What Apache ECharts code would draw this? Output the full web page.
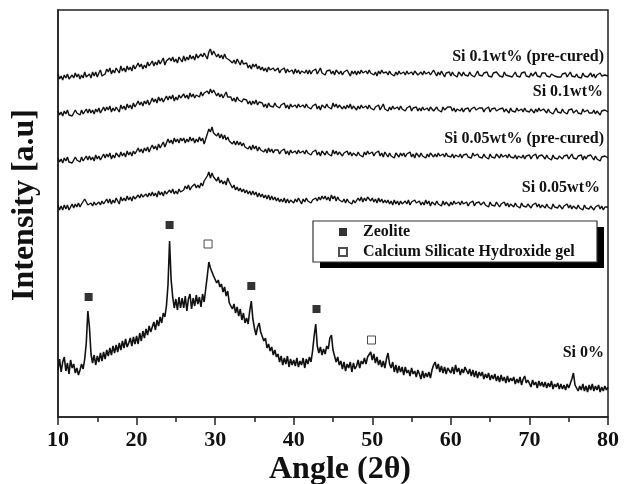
<!DOCTYPE html>
<html><head><meta charset="utf-8">
<script src="https://cdn.jsdelivr.net/npm/echarts@6/dist/echarts.min.js"></script>
<style>html,body{margin:0;padding:0;background:#fff}#c{width:631px;height:484px}</style>
</head><body><div id="c"></div><script>
// XRD patterns, sampled every 0.2 deg from 10 to 80 deg (2-theta); intensity in arbitrary units (stacked offsets)
const ANGLE_START = 10, ANGLE_STEP = 0.2;
const xTicks = [10, 20, 30, 40, 50, 60, 70, 80];
const seriesNames = ['Si 0.1wt% (pre-cured)', 'Si 0.1wt%', 'Si 0.05wt% (pre-cured)', 'Si 0.05wt%', 'Si 0%'];

const si01pre = [
343,338,341,337,342,339,343,338,340,342,
339,344,340,343,338,342,339,345,340,338,
343,339,345,341,345,340,344,347,341,343,
343,348,345,349,343,347,344,349,347,344,
351,346,349,345,351,347,350,346,352,348,
349,354,350,353,348,352,349,355,351,349,
356,351,355,352,357,353,356,359,352,356,
354,359,356,360,355,358,354,360,358,355,
361,356,360,357,362,358,361,357,363,359,
359,363,360,364,361,358,365,368,362,366,
364,360,363,359,362,358,363,359,361,357,
358,354,357,353,358,355,352,357,353,355,
354,349,352,348,353,350,353,348,351,347,
350,346,349,345,350,347,345,349,346,348,
349,344,347,345,349,344,348,345,343,347,
343,348,344,347,343,346,348,344,347,343,
347,343,346,344,348,343,346,349,344,346,
342,346,344,347,343,346,342,347,345,343,
346,342,345,343,347,344,341,346,343,346,
342,346,343,347,344,342,346,343,347,344,
346,342,345,341,346,343,347,344,342,345,
342,346,343,345,341,345,342,346,343,341,
345,342,346,343,341,345,342,346,344,342,
341,345,342,346,343,341,345,342,344,347,
344,341,345,342,346,343,340,344,342,345,
341,345,342,344,340,345,343,341,345,342,
344,341,345,342,344,340,343,346,342,344,
341,344,342,345,341,343,340,344,342,345,
344,341,343,340,345,342,344,341,343,340,
342,345,341,343,340,344,342,345,341,343,
340,344,341,343,345,341,343,340,344,342,
344,341,343,340,343,345,341,343,340,342,
340,343,341,344,340,342,345,341,343,340,
343,340,342,339,344,341,343,340,342,344,
340,343,339,342,340,344,341,339,342,340,
341];

const si01 = [
306,302,305,301,306,303,307,302,304,301,
303,307,304,306,302,307,303,305,308,304,
308,304,307,303,308,305,309,304,307,310,
306,310,307,311,305,309,306,310,308,305,
312,308,311,307,313,309,312,308,314,310,
311,316,312,315,311,316,313,317,312,315,
319,315,318,314,320,316,319,315,318,321,
317,321,318,322,316,320,317,322,319,321,
323,319,322,318,324,320,323,319,322,324,
320,325,321,324,322,326,323,328,324,327,
325,321,324,320,323,319,322,325,320,322,
320,316,319,315,320,317,319,315,318,316,
317,313,316,312,316,313,317,312,315,313,
314,310,313,309,314,311,313,310,314,311,
313,309,312,310,314,309,312,308,313,310,
308,312,309,313,310,308,312,309,313,310,
312,308,311,309,313,308,311,307,312,310,
309,313,310,312,308,314,310,313,309,312,
312,308,311,308,312,309,313,308,311,309,
307,311,308,312,309,307,311,308,312,309,
311,307,310,308,312,307,310,313,308,310,
306,310,307,311,308,306,310,307,311,308,
310,306,309,307,311,306,309,307,310,306,
309,306,310,307,305,309,306,310,308,306,
306,310,307,309,305,310,307,306,310,308,
310,306,309,305,308,310,306,309,305,308,
306,309,305,308,306,310,307,305,309,307,
309,305,308,306,310,305,308,306,309,306,
305,308,306,309,305,308,306,304,309,306,
308,305,309,306,304,308,305,309,306,308,
305,308,306,304,308,305,309,306,304,308,
307,304,308,305,307,303,306,309,305,307,
304,308,305,307,303,307,305,308,304,306,
307,304,306,303,308,305,303,307,304,306,
304,307,303,306,305,302,306,304,307,305,
305];

const si005pre = [
259,255,258,254,259,256,260,255,257,254,
256,260,257,259,255,260,256,258,261,257,
261,257,260,256,262,258,261,257,260,263,
259,263,260,264,258,262,259,264,262,260,
265,261,264,260,266,262,265,261,266,263,
264,269,265,268,264,269,266,270,265,269,
272,268,271,267,273,269,272,275,270,274,
278,274,277,273,279,275,278,274,279,276,
279,274,278,275,280,276,279,274,278,275,
280,276,279,273,278,283,288,285,290,284,
286,281,284,279,283,278,282,277,280,276,
277,273,276,272,276,272,275,271,274,270,
272,268,271,267,272,268,271,266,270,267,
269,265,268,264,269,265,268,264,267,265,
267,263,266,264,268,263,266,262,267,264,
262,266,263,267,264,262,266,263,267,264,
266,262,265,263,267,262,265,261,266,264,
262,266,263,265,261,267,263,266,262,265,
265,261,264,262,266,262,265,261,264,262,
261,265,262,264,260,265,262,266,263,261,
265,261,264,262,266,261,264,260,265,263,
260,264,261,263,259,264,262,260,264,261,
264,260,263,261,265,260,263,259,264,262,
260,264,261,263,259,263,260,264,262,260,
263,260,264,261,259,263,260,264,261,263,
260,263,259,262,264,260,263,259,262,260,
263,260,262,259,264,261,259,263,260,262,
259,263,260,262,258,263,260,262,259,263,
262,259,263,260,258,262,259,263,260,262,
259,262,258,261,263,259,262,258,261,259,
262,258,261,259,263,258,261,259,262,260,
258,262,259,261,257,262,259,261,258,261,
262,258,261,259,262,258,260,263,259,261,
258,261,259,262,257,261,258,261,259,262,
260,257,261,258,260,256,260,258,261,259,
259];

const si005 = [
212,207,211,207,212,208,212,207,210,213,
209,213,210,214,210,213,212,218,216,212,
210,214,211,215,212,210,215,212,216,213,
213,218,214,218,213,217,214,219,216,213,
220,216,219,216,221,217,220,216,221,218,
218,222,219,223,220,218,223,220,224,221,
225,221,224,220,226,222,225,221,226,223,
223,227,224,228,223,226,223,228,225,227,
227,231,228,232,227,230,228,233,229,232,
229,234,231,236,234,241,245,239,244,240,
242,236,240,234,237,233,236,232,239,235,
234,229,232,227,230,226,229,225,228,224,
227,223,226,222,226,222,225,220,224,220,
223,219,222,218,222,217,221,217,220,216,
219,215,218,215,219,214,218,214,217,215,
214,218,215,219,216,213,218,215,219,216,
218,214,217,215,219,216,220,217,221,218,
221,217,220,216,222,218,221,216,220,217,
219,215,218,214,218,215,217,213,217,214,
215,219,216,220,215,219,216,220,218,216,
219,215,218,214,219,215,218,214,217,214,
217,213,216,212,217,213,216,212,216,213,
212,216,213,217,212,215,213,217,214,212,
216,212,215,212,217,213,216,211,215,213,
212,216,213,215,211,216,212,215,213,211,
215,212,216,213,211,215,212,216,213,211,
215,211,214,212,216,211,214,212,215,212,
211,215,212,214,210,215,212,214,211,215,
214,210,213,211,215,211,214,210,213,211,
210,214,211,213,209,214,211,213,210,213,
213,209,212,210,214,210,213,209,212,210,
209,213,210,212,208,213,210,212,209,212,
212,208,211,209,213,209,212,208,211,210,
208,212,209,211,207,212,209,211,208,211,
211,207,210,208,212,208,211,207,210,209,
210];

const si0 = [
47,58,45,55,60,46,54,43,57,49,
53,44,49,42,47,53,48,58,74,106,
90,63,54,62,52,61,55,64,56,65,
58,67,61,69,62,71,64,72,65,74,
67,76,69,78,70,74,79,71,80,73,
81,73,84,76,86,79,88,82,91,85,
86,95,87,97,91,100,94,104,100,111,
132,176,137,120,109,118,107,120,109,119,
109,121,106,118,123,108,119,111,122,113,
120,110,123,115,128,141,155,149,147,141,
140,134,137,130,133,125,130,121,126,114,
115,108,113,104,110,101,108,97,104,94,
99,93,106,116,98,89,82,90,94,85,
84,76,79,69,73,66,70,62,67,60,
63,55,61,52,59,53,61,50,58,52,
57,51,59,50,56,52,59,49,58,53,
60,55,66,81,93,71,64,70,62,68,
63,71,68,79,82,67,61,55,60,52,
56,48,55,46,53,49,55,45,54,48,
51,57,49,56,53,59,53,60,58,65,
57,63,54,60,52,57,50,56,49,58,
64,53,49,55,45,52,44,51,45,50,
42,50,44,47,41,49,43,46,40,47,
43,38,46,39,44,40,45,39,47,52,
55,48,53,45,51,44,50,43,49,51,
44,50,43,52,45,49,42,48,44,50,
51,43,48,41,47,40,46,39,45,41,
45,38,43,39,44,37,42,38,43,36,
41,35,42,36,40,34,41,35,39,36,
40,33,38,34,40,32,38,41,34,37,
36,30,37,32,35,29,36,31,35,30,
35,29,34,30,36,28,33,30,34,28,
33,28,32,27,33,29,31,38,44,32,
32,26,31,27,33,26,31,25,32,27,
33,26,31,27,32,25,30,26,31,27,
30];

// Phase markers: angle and marker height
const zeoliteAngles = [13.9, 24.2, 34.6, 42.9];
const zeoliteHeights = [120, 192, 131, 108];
const cshAngles = [29.1, 49.9];
const cshHeights = [173, 77];
const phaseNames = ['Zeolite', 'Calcium Silicate Hydroxide gel'];

const FONT = '"Liberation Serif", "Times New Roman", serif';
const toPairs = arr => arr.map((v, i) => [+(ANGLE_START + i * ANGLE_STEP).toFixed(1), v]);
const traces = [si01pre, si01, si005pre, si005, si0];
const traceWidths = [1.4, 1.4, 1.4, 1.4, 1.6];
const labelPos = [[604, 57], [603, 92], [604, 139], [600, 188], [604, 353]];

const chart = echarts.init(document.getElementById('c'), null, {renderer: 'canvas'});
const lineSeries = traces.map((t, k) => ({
  type: 'line', name: seriesNames[k], data: toPairs(t), showSymbol: false, symbol: 'none',
  lineStyle: {color: '#111', width: traceWidths[k]}, silent: true, z: 2
}));
chart.setOption({
  animation: false,
  backgroundColor: '#fff',
  grid: {left: 58, right: 23, top: 10, bottom: 67, show: true, borderColor: '#222', borderWidth: 1.5, backgroundColor: 'transparent'},
  xAxis: {
    type: 'value', min: 10, max: 80, interval: 10,
    axisLine: {show: true, lineStyle: {color: '#222', width: 1.5}},
    axisTick: {show: true, length: 8, inside: false, lineStyle: {color: '#222', width: 1.5}},
    minorTick: {show: true, splitNumber: 2, length: 5, lineStyle: {color: '#222', width: 1.5}},
    splitLine: {show: false},
    axisLabel: {fontFamily: FONT, fontWeight: 'bold', fontSize: 22, color: '#111', margin: 12,
      formatter: v => xTicks.includes(v) ? String(v) : ''}
  },
  yAxis: {
    type: 'value', min: 0, max: 407,
    axisLine: {show: true, lineStyle: {color: '#222', width: 1.5}},
    axisTick: {show: false}, axisLabel: {show: false}, splitLine: {show: false}
  },
  legend: {
    orient: 'vertical', left: 313, top: 221, z: 6,
    padding: [1, 0, 0, 25], itemGap: 0, itemWidth: 30, itemHeight: 8,
    icon: 'path://M0 0H10V10H0Z',
    selectedMode: false,
    textStyle: {fontFamily: FONT, fontWeight: 'bold', fontSize: 16, color: '#111', lineHeight: 20},
    data: phaseNames
  },
  series: lineSeries.concat([
    {type: 'scatter', name: phaseNames[0], symbol: 'rect', symbolSize: 8,
     itemStyle: {color: '#000'}, data: zeoliteAngles.map((a, i) => [a, zeoliteHeights[i]]), z: 3},
    {type: 'scatter', name: phaseNames[1], symbol: 'rect', symbolSize: 8,
     itemStyle: {color: '#fff', borderColor: '#222', borderWidth: 1}, data: cshAngles.map((a, i) => [a, cshHeights[i]]), z: 3}
  ]),
  graphic: [
    {type: 'rect', z: 4, shape: {x: 320, y: 227, width: 284, height: 41}, style: {fill: '#000'}},
    {type: 'rect', z: 5, shape: {x: 313, y: 221, width: 284, height: 41}, style: {fill: '#fff', stroke: '#333', lineWidth: 1.2}},
    {type: 'text', x: 25, y: 205, rotation: Math.PI / 2, style: {text: 'Intensity [a.u]', font: 'bold 32px ' + FONT, fill: '#111', align: 'center', verticalAlign: 'middle'}},
    {type: 'text', x: 340, y: 470, style: {text: 'Angle (2θ)', font: 'bold 32px ' + FONT, fill: '#111', align: 'center', verticalAlign: 'middle'}}
  ].concat(seriesNames.map((n, k) => ({
    type: 'text', x: labelPos[k][0], y: labelPos[k][1],
    style: {text: n, font: 'bold 16px ' + FONT, fill: '#111', align: 'right', verticalAlign: 'middle'}
  })))
});
</script></body></html>
